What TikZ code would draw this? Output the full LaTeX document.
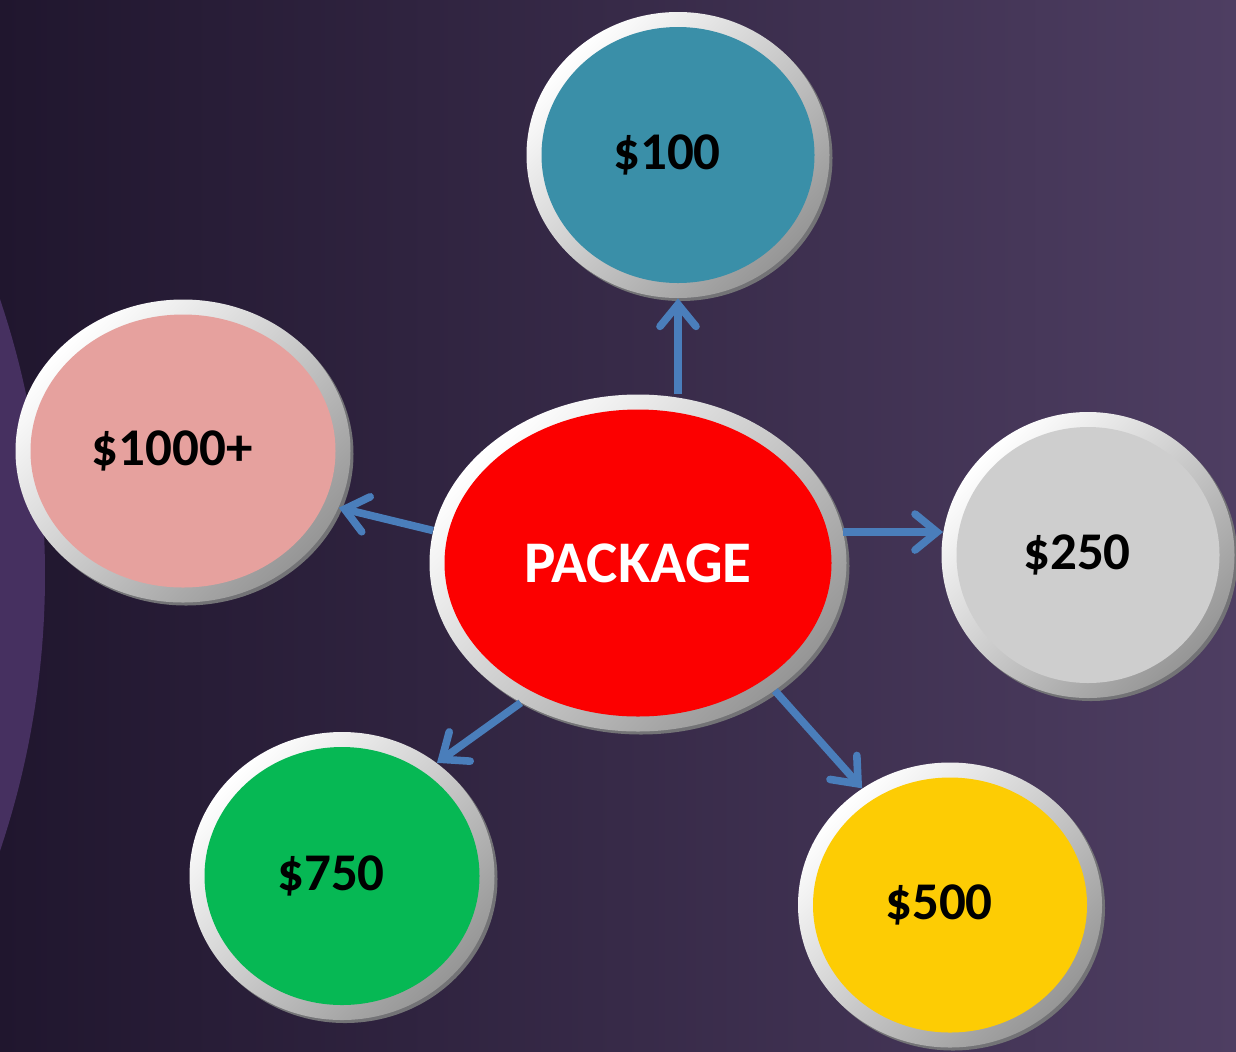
\documentclass[tikz,border=0pt]{standalone}
\usepackage{fontspec}
\setmainfont{Carlito}
\usetikzlibrary{arrows.meta,shapes.geometric,shadows,calc}

\definecolor{bgleft}{RGB}{32,22,46}
\definecolor{bgmid}{RGB}{44,32,60}
\definecolor{bgright}{RGB}{78,62,98}
\definecolor{bgarc}{RGB}{70,48,96}
\definecolor{rimgray}{RGB}{150,150,150}
\definecolor{rimshadow}{RGB}{115,115,118}
\definecolor{arrowblue}{RGB}{74,126,187}
\definecolor{coinblue}{RGB}{58,143,168}
\definecolor{coinpink}{RGB}{230,161,158}
\definecolor{coinred}{RGB}{252,0,0}
\definecolor{coingray}{RGB}{206,206,206}
\definecolor{coingreen}{RGB}{6,184,84}
\definecolor{coinyellow}{RGB}{253,204,4}

\begin{document}
\begin{tikzpicture}[x=0.5pt,y=-0.5pt,
    coin/.style={ellipse, inner sep=0pt, top color=white, bottom color=rimgray, shading angle=45,
      drop shadow={shadow xshift=1.5pt, shadow yshift=-1.5pt, fill=rimshadow, opacity=1},
      path picture={\fill[#1] let \p1=(path picture bounding box.north east),
        \p2=(path picture bounding box.center) in (\p2) ellipse ({\x1-\x2-7.5pt} and {\y1-\y2-7.5pt});}},
    price/.style={coin=#1, font=\bfseries\fontsize{26.5}{31}\selectfont,
      execute at end node={\hspace*{11pt}}},
    link/.style={-{Straight Barb[length=11pt,width=18pt,line cap=round]}, line width=3.8pt, color=arrowblue}]

    % backdrop
    \useasboundingbox (0,0) rectangle (1236,1051);
    \fill[left color=bgleft, middle color=bgmid, right color=bgright] (0,0) rectangle (1236,1051);
    \begin{scope}
        \clip (0,0) rectangle (1236,1051);
        \fill[bgarc] (-818,575) circle (431.5pt);
    \end{scope}

    \node[coin=coinred, minimum width=208.5pt, minimum height=168.5pt, text=white,
        font=\bfseries\fontsize{29.5}{34}\selectfont] (pkg) at (638,563) {PACKAGE};
    \node[price=coinblue, minimum width=151.5pt, minimum height=143pt] (c100) at (678,155) {\$100};
    \node[price=coinpink, minimum width=167.5pt, minimum height=151.5pt] (c1000) at (183,451) {\$1000+};
    \node[price=coingray, minimum width=146.5pt, minimum height=143pt] (c250) at (1088,555) {\$250};
    \node[price=coingreen, minimum width=152.5pt, minimum height=144pt] (c750) at (342,876) {\$750};
    \node[price=coinyellow, minimum width=152pt, minimum height=142.5pt] (c500) at (950,905) {\$500};

    \path[link]
    (pkg.north -| c100.south) edge (c100.south)
    (pkg.171) edge (c1000.340)
    (c250.171 -| pkg.9) edge (c250.171)
    (pkg.230) edge (c750.50)
    (pkg.317) edge (c500.127);

\end{tikzpicture}
\end{document}
